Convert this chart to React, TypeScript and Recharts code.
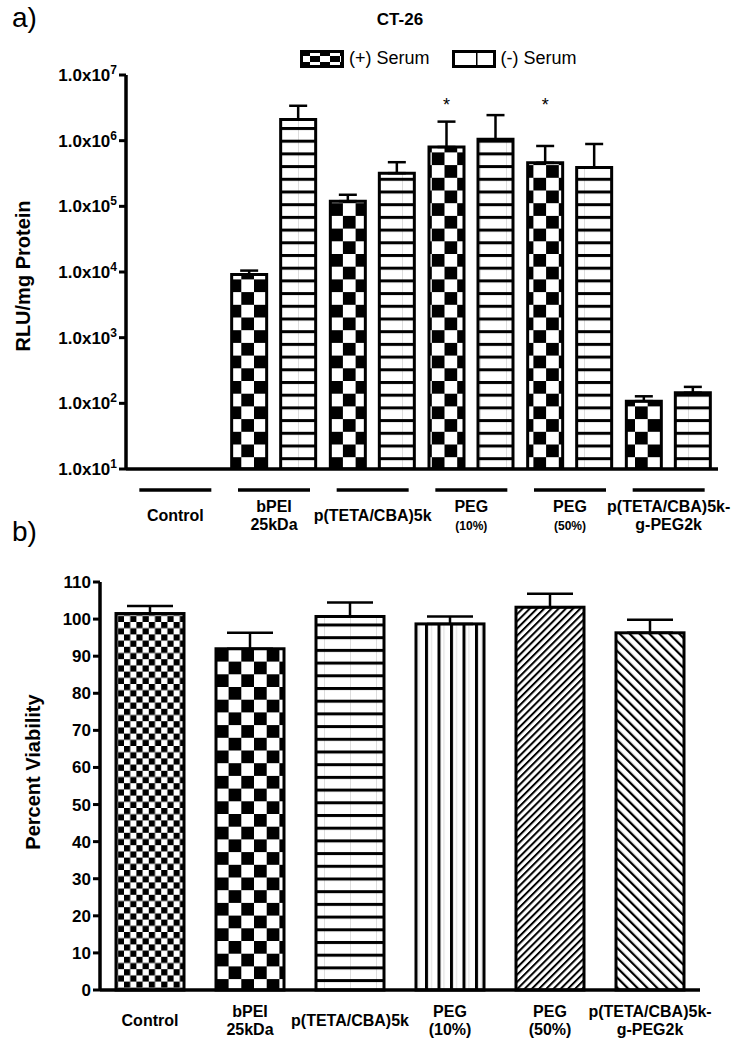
import { BarChart, Bar, XAxis, YAxis, ErrorBar, LabelList } from 'recharts'

const FONT = '"Liberation Sans", Arial, Helvetica, sans-serif'

// groups shared by both panels
const groups = ['Control', 'bPEI 25kDa', 'p(TETA/CBA)5k', 'PEG (10%)', 'PEG (50%)', 'p(TETA/CBA)5k-g-PEG2k']
const groupLines = [['Control'], ['bPEI', '25kDa'], ['p(TETA/CBA)5k'], ['PEG', '(10%)'], ['PEG', '(50%)'], ['p(TETA/CBA)5k-', 'g-PEG2k']]

// panel a: RLU/mg protein, log scale
const seriesNames = ['(+) Serum', '(-) Serum']
const plusSerum = [null, 9200, 120000, 800000, 460000, 108]
const plusSerumErr = [null, 1300, 30000, 1150000, 370000, 20]
const minusSerum = [null, 2100000, 320000, 1050000, 390000, 145]
const minusSerumErr = [null, 1300000, 150000, 1400000, 500000, 33]
const stars = [false, false, false, true, true, false]
const logTicks = [1e1, 1e2, 1e3, 1e4, 1e5, 1e6, 1e7]

// panel b: percent viability
const viability = [101.5, 92, 100.7, 98.7, 103.2, 96.3]
const viabilityErr = [2, 4.3, 3.8, 2, 3.6, 3.5]
const viabilityTicks = [0, 10, 20, 30, 40, 50, 60, 70, 80, 90, 100, 110]
const viabilityFills = ['url(#chkSmall)', 'url(#chkBig)', 'url(#hStripe)', 'url(#vStripe)', 'url(#diagUp)', 'url(#diagDown)']

const topData = groups.map((g, i) => ({
  group: g,
  plus: plusSerum[i],
  plusErr: plusSerum[i] == null ? undefined : [0, plusSerumErr[i]],
  minus: minusSerum[i],
  minusErr: minusSerum[i] == null ? undefined : [0, minusSerumErr[i]],
  star: stars[i] ? '*' : '',
}))

const bottomData = groups.map((g, i) => ({
  group: g,
  value: viability[i],
  err: [0, viabilityErr[i]],
}))

const Patterns = () => (
  <defs>
    <pattern id="chkBig" patternUnits="userSpaceOnUse" width={25.4} height={25.4}>
      <rect width={25.4} height={25.4} fill="#fff" />
      <rect width={12.7} height={12.7} fill="#000" />
      <rect x={12.7} y={12.7} width={12.7} height={12.7} fill="#000" />
    </pattern>
    <pattern id="chkSmall" patternUnits="userSpaceOnUse" width={12.4} height={12.4}>
      <rect width={12.4} height={12.4} fill="#fff" />
      <rect width={6.2} height={6.2} fill="#000" />
      <rect x={6.2} y={6.2} width={6.2} height={6.2} fill="#000" />
    </pattern>
    <pattern id="hStripe" patternUnits="userSpaceOnUse" width={26} height={12.7}>
      <rect width={26} height={12.7} fill="#fff" />
      <rect x={12} width={1} height={12.7} fill="#ddd" />
      <rect width={26} height={3} fill="#000" />
    </pattern>
    <pattern id="vStripe" patternUnits="userSpaceOnUse" width={12.5} height={25}>
      <rect width={12.5} height={25} fill="#fff" />
      <rect x={6} width={1} height={25} fill="#ddd" />
      <rect width={3} height={25} fill="#000" />
    </pattern>
    <pattern id="diagUp" patternUnits="userSpaceOnUse" width={5.1} height={5.1} patternTransform="rotate(45)">
      <rect width={5.1} height={5.1} fill="#fff" />
      <rect width={2} height={5.1} fill="#000" />
    </pattern>
    <pattern id="diagDown" patternUnits="userSpaceOnUse" width={7} height={7} patternTransform="rotate(-45)">
      <rect width={7} height={7} fill="#fff" />
      <rect width={2.2} height={7} fill="#000" />
    </pattern>
  </defs>
)

const LogTick = ({ x, y, payload }: any) => {
  const exp = Math.round(Math.log10(payload.value))
  return (
    <text x={x} y={y} dy={6} textAnchor="end" fontFamily={FONT} fontSize={17} fontWeight="bold" fill="#000">
      1.0x10<tspan dy={-7} fontSize={12}>{exp}</tspan>
    </text>
  )
}

const NumTick = ({ x, y, payload }: any) => (
  <text x={x} y={y} dy={6} textAnchor="end" fontFamily={FONT} fontSize={17} fontWeight="bold" fill="#000">
    {payload.value}
  </text>
)

const makeGroupTick = (underline: boolean, lineY: number, smallSub: boolean) => ({ x, y, payload }: any) => {
  const lines = groupLines[groups.indexOf(payload.value)] || [payload.value]
  const base = lines.length === 1 ? lineY + 9 : lineY
  return (
    <g>
      {underline && <line x1={x - 36} x2={x + 36} y1={y + 19} y2={y + 19} stroke="#000" strokeWidth={3.5} />}
      {lines.map((l: string, k: number) => (
        <text key={k} x={x} y={y + base + k * 18} textAnchor="middle" fontFamily={FONT}
          fontSize={smallSub && k === 1 && l.startsWith('(') ? 12 : 16} fontWeight="bold" fill="#000">
          {l}
        </text>
      ))}
    </g>
  )
}

const TopTick = makeGroupTick(true, 41, true)
const BottomTick = makeGroupTick(false, 25, false)

const Star = ({ x, width, value }: any) =>
  value ? (
    <text x={x + width / 2} y={75 + 36} textAnchor="middle" fontFamily={FONT} fontSize={18} fill="#000">{value}</text>
  ) : null

const Swatch = ({ fill }: { fill: string }) => (
  <svg width={44} height={18} style={{ display: 'block' }}>
    <rect x={1.5} y={1.5} width={41} height={15} fill={fill} stroke="#000" strokeWidth={3} />
  </svg>
)

export default function App() {
  return (
    <div style={{ position: 'absolute', left: 0, top: 0, width: 741, height: 1050, background: '#fff', fontFamily: FONT }}>
      <div style={{ position: 'absolute', left: 12, top: 2, fontSize: 28 }}>a)</div>
      <div style={{ position: 'absolute', left: 12, top: 516, fontSize: 28 }}>b)</div>
      <div style={{ position: 'absolute', left: 300, width: 200, top: 10, textAlign: 'center', fontSize: 17, fontWeight: 'bold' }}>CT-26</div>
      <div style={{ position: 'absolute', left: 300, top: 48, display: 'flex', alignItems: 'center', fontSize: 18 }}>
        {seriesNames.map((n, i) => (
          <div key={n} style={{ display: 'flex', alignItems: 'center', marginRight: 22 }}>
            <Swatch fill={i === 0 ? 'url(#chkLegend)' : 'url(#hLegend)'} />
            <span style={{ marginLeft: 5 }}>{n}</span>
          </div>
        ))}
        <svg width={0} height={0}>
          <defs>
            <pattern id="chkLegend" patternUnits="userSpaceOnUse" width={20} height={12}>
              <rect width={20} height={12} fill="#fff" />
              <rect width={10} height={6} fill="#000" />
              <rect x={10} y={6} width={10} height={6} fill="#000" />
            </pattern>
            <pattern id="hLegend" patternUnits="userSpaceOnUse" width={30} height={18}>
              <rect width={30} height={18} fill="#fff" />
              <rect x={24} width={1.5} height={18} fill="#000" />
            </pattern>
          </defs>
        </svg>
      </div>

      <div style={{ position: 'absolute', left: 0, top: 0 }}>
        <BarChart width={741} height={540} data={topData} margin={{ top: 75, right: 23, left: 0, bottom: 0 }} barGap={14}>
          <Patterns />
          <XAxis dataKey="group" interval={0} tickSize={0} tickLine={false} axisLine={{ stroke: '#000', strokeWidth: 3.5 }} height={71} tick={<TopTick />} />
          <YAxis scale="log" domain={[10, 1e7]} ticks={logTicks} allowDataOverflow width={126} interval={0}
            tickSize={7} tickMargin={2} tick={<LogTick />} tickLine={{ stroke: '#000', strokeWidth: 3 }} axisLine={{ stroke: '#000', strokeWidth: 3.5 }}
            label={{ content: () => (
              <text transform="translate(30,276) rotate(-90)" textAnchor="middle" fontFamily={FONT} fontSize={20} fontWeight="bold" fill="#000">RLU/mg Protein</text>
            ) }} />
          <Bar dataKey="plus" name={seriesNames[0]} barSize={35} fill="url(#chkBig)" stroke="#000" strokeWidth={3} isAnimationActive={false}>
            <ErrorBar dataKey="plusErr" width={9} stroke="#000" strokeWidth={2.5} direction="y" />
            <LabelList dataKey="star" content={<Star />} />
          </Bar>
          <Bar dataKey="minus" name={seriesNames[1]} barSize={35} fill="url(#hStripe)" stroke="#000" strokeWidth={3} isAnimationActive={false}>
            <ErrorBar dataKey="minusErr" width={9} stroke="#000" strokeWidth={2.5} direction="y" />
          </Bar>
        </BarChart>
      </div>

      <div style={{ position: 'absolute', left: 0, top: 560 }}>
        <BarChart width={741} height={490} data={bottomData} margin={{ top: 22, right: 41, left: 0, bottom: 0 }}>
          <Patterns />
          <XAxis dataKey="group" interval={0} tickSize={0} tickLine={false} axisLine={{ stroke: '#000', strokeWidth: 3.5 }} height={60} tick={<BottomTick />} />
          <YAxis domain={[0, 110]} ticks={viabilityTicks} width={100} interval={0}
            tickSize={7} tickMargin={2} tick={<NumTick />} tickLine={{ stroke: '#000', strokeWidth: 3 }} axisLine={{ stroke: '#000', strokeWidth: 3.5 }}
            label={{ content: () => (
              <text transform="translate(40,212) rotate(-90)" textAnchor="middle" fontFamily={FONT} fontSize={20} fontWeight="bold" fill="#000">Percent Viability</text>
            ) }} />
          <Bar dataKey="value" barSize={68} stroke="#000" strokeWidth={3} isAnimationActive={false}
            shape={(p: any) => (
              <rect x={p.x} y={p.y} width={p.width} height={p.height} fill={viabilityFills[p.index]} stroke="#000" strokeWidth={3} />
            )}>
            <ErrorBar dataKey="err" width={23} stroke="#000" strokeWidth={2.5} direction="y" />
          </Bar>
        </BarChart>
      </div>
    </div>
  )
}
